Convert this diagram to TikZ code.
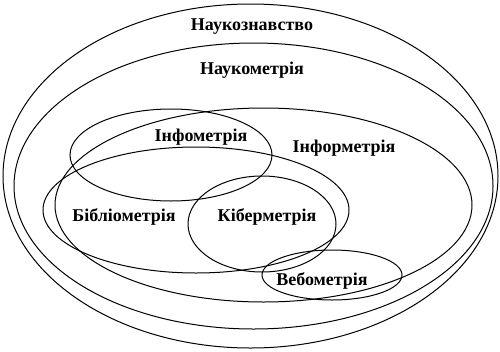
\documentclass[tikz,border=0pt]{standalone}
\usepackage{fontspec}
\setmainfont{Liberation Serif}
\begin{document}
\begin{tikzpicture}[x=1pt,y=-1pt,
  ring/.style={draw=black,line width=1pt},
  lbl/.style={font=\fontsize{18}{20}\selectfont\bfseries,inner sep=0pt,anchor=base}]
\useasboundingbox[fill=white] (0,0) rectangle (500,351);
% ellipses
\draw[ring] (250.5,176) ellipse [x radius=247.5, y radius=172];
\draw[ring] (253.5,186) ellipse [x radius=239.5, y radius=143];
\draw[ring] (263.5,205) ellipse [x radius=208.5, y radius=97];
\draw[ring] (171,155) ellipse [x radius=101, y radius=46];
\draw[ring] (196,210) ellipse [x radius=153, y radius=63];
\draw[ring] (262,224) ellipse [x radius=74, y radius=48];
\draw[ring] (332,275) ellipse [x radius=70, y radius=25];
% labels
\node[lbl] (nz) at (252,30) {Наукознавство};
\node[lbl] (nm) at (252,74) {Наукометрія};
\node[lbl] (if) at (201,141) {Інфометрія};
\node[lbl] (ir) at (344,152) {Інформетрія};
\node[lbl] (bm) at (124,221) {Бібліометрія};
\node[lbl] (km) at (267,221) {Кіберметрія};
\node[lbl] (wm) at (322,285) {Вебометрія};
\end{tikzpicture}
\end{document}
